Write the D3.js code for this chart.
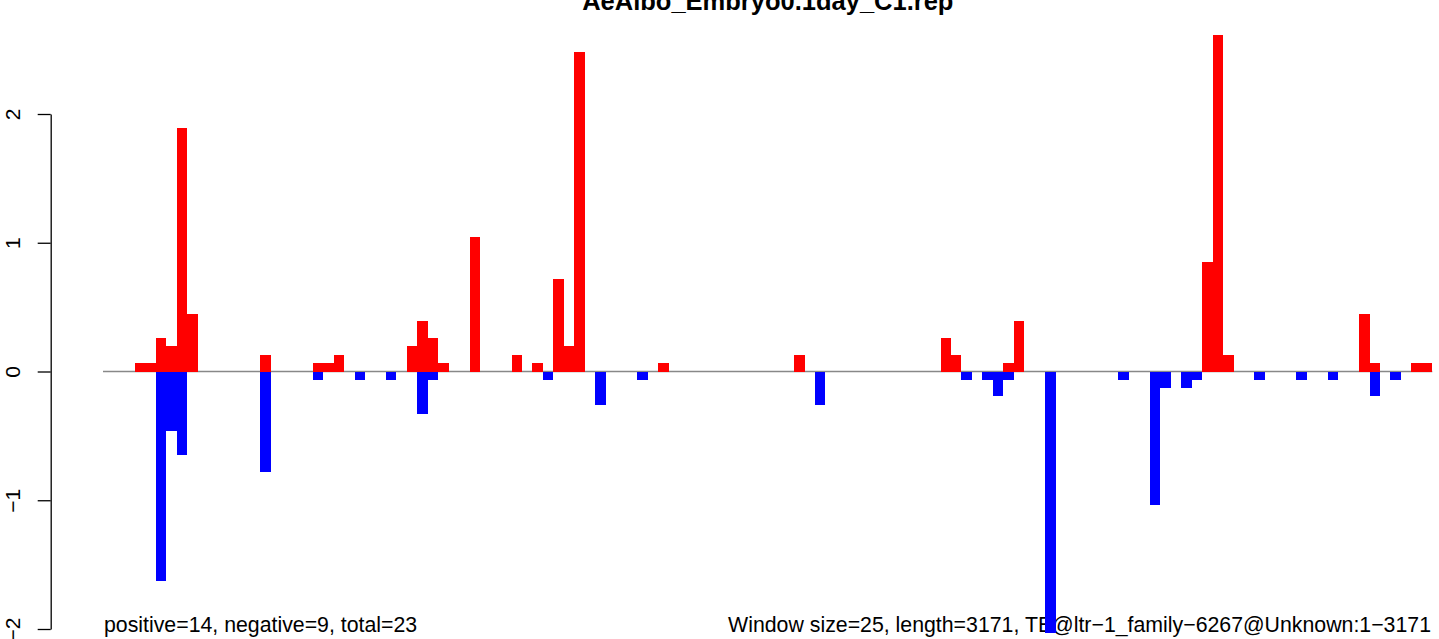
<!DOCTYPE html>
<html>
<head>
<meta charset="utf-8">
<script src="https://cdn.jsdelivr.net/npm/d3@7"></script>
<style>
  body { margin: 0; background: #fff; }
  svg { display: block; font-family: "Liberation Sans", Arial, sans-serif; }
</style>
</head>
<body>
<svg id="chart" width="1439" height="639"></svg>
<script>
var title = "AeAlbo_Embryo0.1day_C1.rep"
var leftNote = "positive=14, negative=9, total=23"
var rightNote = "Window size=25, length=3171, TE@ltr\u22121_family\u22126267@Unknown:1\u22123171"
var windowCount = 127
var yTicks = [-2, -1, 0, 1, 2]

// windows with a positive (red) signal and their values
var posWindows = [3, 4, 5, 6, 7, 8, 15, 20, 21, 22, 29, 30, 31, 32, 35, 39, 41, 43, 44, 45, 53, 66, 80, 81, 86, 87, 105, 106, 107, 120, 121, 125, 126]
var posValues = [0.065, 0.065, 0.26, 0.2, 1.89, 0.45, 0.13, 0.065, 0.065, 0.13, 0.2, 0.39, 0.26, 0.065, 1.045, 0.13, 0.065, 0.72, 0.2, 2.48, 0.065, 0.13, 0.26, 0.13, 0.065, 0.39, 0.85, 2.61, 0.13, 0.45, 0.065, 0.065, 0.065]

// windows with a negative (blue) signal and their values
var negWindows = [5, 6, 7, 15, 20, 24, 27, 30, 31, 42, 47, 51, 68, 82, 84, 85, 86, 90, 97, 100, 101, 103, 104, 110, 114, 117, 121, 123]
var negValues = [-1.63, -0.46, -0.65, -0.78, -0.065, -0.065, -0.065, -0.33, -0.065, -0.065, -0.26, -0.065, -0.26, -0.065, -0.065, -0.19, -0.065, -2.03, -0.065, -1.04, -0.13, -0.13, -0.065, -0.065, -0.065, -0.065, -0.19, -0.065]

var svg = d3.select("#chart")

var xScale = d3.scaleBand()
    .domain(d3.range(windowCount))
    .range([103.5, 1432.3])
    .padding(0)

var yScale = d3.scaleLinear()
    .domain([-2, 2])
    .range([629, 114])

// title (sits partly above the top edge, like the original)
svg.append("text")
    .attr("x", 767.8)
    .attr("y", 10)
    .attr("text-anchor", "middle")
    .attr("font-weight", "bold")
    .attr("font-size", "25.5px")
    .text(title)

// notes at the bottom
svg.append("text")
    .attr("x", 104)
    .attr("y", 631.5)
    .attr("font-size", "21.3px")
    .text(leftNote)

svg.append("text")
    .attr("x", 1431)
    .attr("y", 631.5)
    .attr("text-anchor", "end")
    .attr("font-size", "21.3px")
    .text(rightNote)

// zero line
svg.append("line")
    .attr("x1", xScale.range()[0] - 0.5)
    .attr("x2", xScale.range()[1])
    .attr("y1", yScale(0))
    .attr("y2", yScale(0))
    .attr("stroke", "#888")
    .attr("stroke-width", 1.3)

var posData = posWindows.map(function (w, i) { return { w: w, v: posValues[i] } })
var negData = negWindows.map(function (w, i) { return { w: w, v: negValues[i] } })

svg.append("g").selectAll("rect")
    .data(posData)
    .enter()
    .append("rect")
    .attr("x", d => xScale(d.w))
    .attr("width", xScale.bandwidth())
    .attr("y", d => yScale(d.v))
    .attr("height", d => yScale(0) - yScale(d.v))
    .attr("fill", "#ff0000")
    .attr("shape-rendering", "crispEdges")

svg.append("g").selectAll("rect")
    .data(negData)
    .enter()
    .append("rect")
    .attr("x", d => xScale(d.w))
    .attr("width", xScale.bandwidth())
    .attr("y", yScale(0))
    .attr("height", d => yScale(d.v) - yScale(0))
    .attr("fill", "#0000ff")
    .attr("shape-rendering", "crispEdges")

// y axis, R style with rotated labels
var yAxis = d3.axisLeft(yScale)
    .tickValues(yTicks)
    .tickFormat(d3.format("d"))
    .tickSize(13)
    .tickSizeOuter(0)

var axisG = svg.append("g")
    .attr("transform", "translate(50.7,0)")
    .call(yAxis)

axisG.select(".domain")
    .attr("stroke", "#000")
    .attr("stroke-width", 1.3)
axisG.selectAll(".tick line")
    .attr("stroke", "#000")
    .attr("stroke-width", 1.3)
axisG.selectAll(".tick text")
    .attr("x", 0)
    .attr("dy", 0)
    .attr("fill", "#000")
    .attr("font-size", "21px")
    .attr("font-family", "Liberation Sans, Arial, sans-serif")
    .attr("text-anchor", "middle")
    .attr("transform", "translate(-30.7,0) rotate(-90)")
</script>
</body>
</html>
